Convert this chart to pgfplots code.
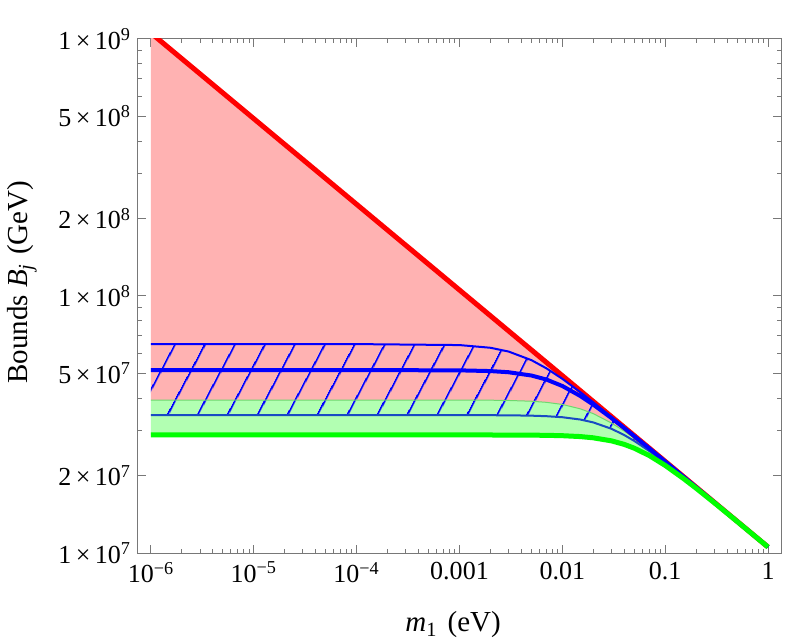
\documentclass[border=0pt]{standalone}
\usepackage{fontspec}
\setmainfont{Liberation Serif}
\usepackage{pgfplots}
\pgfplotsset{compat=1.18}
\usetikzlibrary{patterns.meta}

\definecolor{pinkfill}{RGB}{255,178,178}
\definecolor{greenfill}{RGB}{178,255,178}
\definecolor{greenedge}{RGB}{110,215,110}
\definecolor{lowblue}{RGB}{25,75,195}
\definecolor{framegray}{RGB}{120,120,120}

\begin{document}
\begin{tikzpicture}
\begin{loglogaxis}[
    scale only axis,
    width=321.5pt, height=257pt,
    xmin=7.48e-7, xmax=1.337,
    ymin=1e7, ymax=1e9,
    axis line style={framegray, line width=0.5pt},
    tick style={framegray, line width=0.5pt},
    tick align=inside,
    major tick length=4pt,
    minor tick length=2pt,
    xtick={1e-6,1e-5,1e-4,1e-3,1e-2,1e-1,1},
    xticklabels={10\textsuperscript{−6},10\textsuperscript{−5},10\textsuperscript{−4},0.001,0.01,0.1,1},
    minor xtick={2e-6,3e-6,4e-6,5e-6,6e-6,7e-6,8e-6,9e-6,
                 2e-5,3e-5,4e-5,5e-5,6e-5,7e-5,8e-5,9e-5,
                 2e-4,3e-4,4e-4,5e-4,6e-4,7e-4,8e-4,9e-4,
                 2e-3,3e-3,4e-3,5e-3,6e-3,7e-3,8e-3,9e-3,
                 2e-2,3e-2,4e-2,5e-2,6e-2,7e-2,8e-2,9e-2,
                 0.2,0.3,0.4,0.5,0.6,0.7,0.8,0.9},
    ytick={1e7,2e7,5e7,1e8,2e8,5e8,1e9},
    yticklabels={1\,×\,10\textsuperscript{7},2\,×\,10\textsuperscript{7},5\,×\,10\textsuperscript{7},
                 1\,×\,10\textsuperscript{8},2\,×\,10\textsuperscript{8},5\,×\,10\textsuperscript{8},
                 1\,×\,10\textsuperscript{9}},
    minor ytick={3e7,4e7,6e7,7e7,8e7,9e7,3e8,4e8,6e8,7e8,8e8,9e8},
    ticklabel style={font=\fontsize{13}{15}\selectfont},
    xticklabel style={yshift=-1pt},
    label style={font=\fontsize{14.5}{17}\selectfont},
    xlabel={\textit{m}\textsubscript{1}\hspace{0.35em}(eV)},
    ylabel={Bounds \textit{B}\textsubscript{\textit{j}}\hspace{0.3em}(GeV)},
    xlabel style={at={(axis description cs:0.49,-0.14)}, anchor=center},
    ylabel style={at={(axis description cs:-0.18,0.527)}, anchor=center},
]
% pink region: between red bound and upper edge of green band
\addplot[draw=none, fill=pinkfill] coordinates {
  (1e-6,1.055e9) (1,1.055e7)
  (0.7,1.188e7) (0.5,1.329e7) (0.3,1.575e7) (0.2,1.801e7) (0.15,1.980e7)
  (0.1,2.259e7) (0.07,2.529e7) (0.05,2.799e7) (0.04,2.980e7) (0.03,3.206e7)
  (0.02,3.485e7) (0.015,3.638e7) (0.01,3.785e7) (7e-3,3.858e7) (5e-3,3.896e7)
  (3e-3,3.923e7) (2e-3,3.932e7) (1e-3,3.937e7) (1e-4,3.939e7) (1e-6,3.939e7)
};
% green band
\addplot[draw=none, fill=greenfill] coordinates {
  (1e-6,3.939e7) (1e-4,3.939e7) (1e-3,3.937e7) (2e-3,3.932e7) (3e-3,3.923e7)
  (5e-3,3.896e7) (7e-3,3.858e7) (0.01,3.785e7) (0.015,3.638e7) (0.02,3.485e7)
  (0.03,3.206e7) (0.04,2.980e7) (0.05,2.799e7) (0.07,2.529e7) (0.1,2.259e7)
  (0.15,1.980e7) (0.2,1.801e7) (0.3,1.575e7) (0.5,1.329e7) (0.7,1.188e7) (1,1.055e7)
  (0.7,1.187e7) (0.5,1.327e7) (0.3,1.569e7) (0.2,1.787e7) (0.15,1.952e7)
  (0.1,2.192e7) (0.07,2.395e7) (0.05,2.558e7) (0.04,2.646e7) (0.03,2.732e7)
  (0.02,2.807e7) (0.015,2.838e7) (0.01,2.861e7) (7e-3,2.870e7) (5e-3,2.875e7)
  (3e-3,2.878e7) (1e-3,2.880e7) (1e-6,2.880e7)
};
% hatched blue band
\addplot[draw=none, pattern={Lines[angle=62, distance=13pt, line width=1pt]}, pattern color=blue] coordinates {
  (1e-6,6.50e7) (1e-4,6.50e7) (1e-3,6.443e7) (2e-3,6.289e7) (3e-3,6.080e7)
  (5e-3,5.630e7) (7e-3,5.231e7) (0.01,4.761e7) (0.015,4.222e7) (0.02,3.857e7)
  (0.03,3.384e7) (0.04,3.079e7) (0.05,2.860e7) (0.07,2.558e7) (0.1,2.272e7)
  (0.15,1.985e7) (0.2,1.804e7) (0.3,1.576e7) (0.5,1.329e7) (0.7,1.188e7) (1,1.055e7)
  (0.7,1.188e7) (0.5,1.328e7) (0.3,1.574e7) (0.2,1.798e7) (0.15,1.974e7)
  (0.1,2.243e7) (0.07,2.494e7) (0.05,2.730e7) (0.04,2.877e7) (0.03,3.044e7)
  (0.02,3.222e7) (0.015,3.306e7) (0.01,3.376e7) (7e-3,3.407e7) (5e-3,3.423e7)
  (3e-3,3.434e7) (2e-3,3.437e7) (1e-3,3.439e7) (1e-6,3.440e7)
};
% edge of green band
\addplot[greenedge, line width=0.5pt] coordinates {
  (1e-6,3.939e7) (1e-4,3.939e7) (1e-3,3.937e7) (2e-3,3.932e7) (3e-3,3.923e7)
  (5e-3,3.896e7) (7e-3,3.858e7) (0.01,3.785e7) (0.015,3.638e7) (0.02,3.485e7)
  (0.03,3.206e7) (0.04,2.980e7) (0.05,2.799e7) (0.07,2.529e7) (0.1,2.259e7)
  (0.15,1.980e7) (0.2,1.801e7) (0.3,1.575e7) (0.5,1.329e7) (0.7,1.188e7) (1,1.055e7)
};
% red bound
\addplot[red, line width=2.5pt] coordinates {(1e-6,1.055e9) (1,1.055e7)};
% blue band edges
\addplot[blue, line width=1pt] coordinates {
  (1e-6,6.50e7) (1e-4,6.50e7) (1e-3,6.443e7) (2e-3,6.289e7) (3e-3,6.080e7)
  (5e-3,5.630e7) (7e-3,5.231e7) (0.01,4.761e7) (0.015,4.222e7) (0.02,3.857e7)
  (0.03,3.384e7) (0.04,3.079e7) (0.05,2.860e7) (0.07,2.558e7) (0.1,2.272e7)
  (0.15,1.985e7) (0.2,1.804e7) (0.3,1.576e7) (0.5,1.329e7) (0.7,1.188e7) (1,1.055e7)
};
\addplot[lowblue, line width=1pt] coordinates {
  (1e-6,3.440e7) (1e-3,3.439e7) (2e-3,3.437e7) (3e-3,3.434e7) (5e-3,3.423e7)
  (7e-3,3.407e7) (0.01,3.376e7) (0.015,3.306e7) (0.02,3.222e7) (0.03,3.044e7)
  (0.04,2.877e7) (0.05,2.730e7) (0.07,2.494e7) (0.1,2.243e7) (0.15,1.974e7)
  (0.2,1.798e7) (0.3,1.574e7) (0.5,1.328e7) (0.7,1.188e7) (1,1.055e7)
};
% central blue
\addplot[blue, line width=2pt] coordinates {
  (1e-6,5.149e7) (1e-4,5.149e7) (1e-3,5.137e7) (2e-3,5.104e7) (3e-3,5.051e7)
  (5e-3,4.905e7) (7e-3,4.731e7) (0.01,4.465e7) (0.015,4.080e7) (0.02,3.778e7)
  (0.03,3.351e7) (0.04,3.062e7) (0.05,2.850e7) (0.07,2.554e7) (0.1,2.270e7)
  (0.15,1.984e7) (0.2,1.803e7) (0.3,1.576e7) (0.5,1.329e7) (0.7,1.188e7) (1,1.055e7)
};
% central green
\addplot[green, line width=2.5pt] coordinates {
  (1e-6,2.880e7) (1e-3,2.880e7) (3e-3,2.878e7) (5e-3,2.875e7) (7e-3,2.870e7)
  (0.01,2.861e7) (0.015,2.838e7) (0.02,2.807e7) (0.03,2.732e7) (0.04,2.646e7)
  (0.05,2.558e7) (0.07,2.395e7) (0.1,2.192e7) (0.15,1.952e7) (0.2,1.787e7)
  (0.3,1.569e7) (0.5,1.327e7) (0.7,1.187e7) (1,1.055e7)
};
\coordinate (bbsw) at (rel axis cs:-0.2146,-0.1693);
\coordinate (bbne) at (rel axis cs:1.0124,1.0759);
\end{loglogaxis}
\pgfresetboundingbox
\useasboundingbox (bbsw) rectangle (bbne);
\end{tikzpicture}
\end{document}
